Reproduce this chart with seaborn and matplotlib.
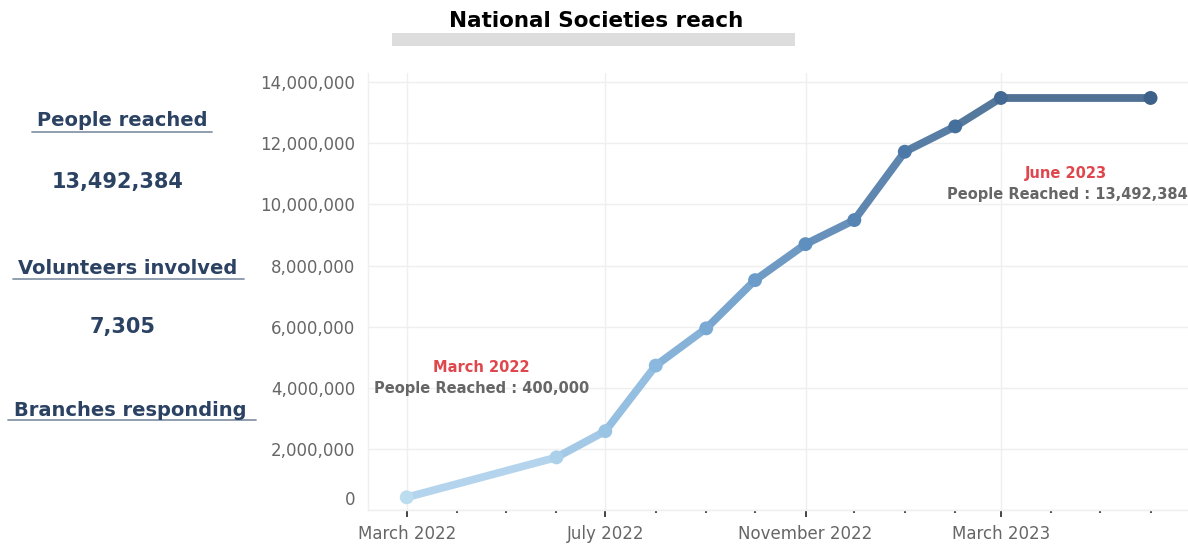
"""
National Societies reach - cumulative people reached line chart
"""

import pandas as pd
import numpy as np
import matplotlib.pyplot as plt
import matplotlib.dates as mdates
import matplotlib.patches as mpatches
from matplotlib.colors import LinearSegmentedColormap
from matplotlib.ticker import FuncFormatter, MultipleLocator
from matplotlib.transforms import ScaledTranslation
import seaborn as sns

# ─────────────────────────────────────────────
# DATA
# ─────────────────────────────────────────────
months = ['2022-03-01', '2022-06-01', '2022-07-01', '2022-08-01', '2022-09-01',
          '2022-10-01', '2022-11-01', '2022-12-01', '2023-01-01', '2023-02-01',
          '2023-03-01', '2023-06-01']
people_reached = [400000, 1710000, 2570000, 4720000, 5940000, 7520000,
                  8700000, 9490000, 11730000, 12560000, 13492384, 13492384]

kpi_labels = ['People reached', 'Volunteers involved', 'Branches responding']
kpi_values = ['13,492,384', '7,305', '']

df = pd.DataFrame({'Month': pd.to_datetime(months), 'Reached': people_reached})
df['step'] = range(len(df))

# ─────────────────────────────────────────────
# STYLE
# ─────────────────────────────────────────────
sns.set_style("white")
plt.rcParams['font.family'] = ['DejaVu Sans']

navy = '#2b4263'
grey_txt = '#666666'
red_txt = '#e0474c'
cmap = LinearSegmentedColormap.from_list(
    'reach', ['#bcdcf0', '#8dbbe0', '#6495c4', '#4a76a4', '#3d6189'])
n = len(df)
cols = [cmap(i / (n - 1)) for i in range(n)]

fig = plt.figure(figsize=(11.88, 5.45), dpi=100)
ax = fig.add_axes([0.3095, 0.0651, 0.6905, 0.8009])

# ── line (gradient segments) + markers ─────
for i in range(n - 1):
    seg = df.iloc[i:i + 2]
    ax.plot(seg['Month'], seg['Reached'], color=cols[i + 1], lw=5.6,
            alpha=0.9, solid_capstyle='round', zorder=3)
sns.scatterplot(data=df, x='Month', y='Reached', hue='step', palette=cols,
                s=100, edgecolor='none', legend=False, ax=ax, zorder=4)

# ── axes ───────────────────────────────────
ax.set_xlim(pd.Timestamp('2022-02-05'), pd.Timestamp('2023-06-24'))
ax.set_ylim(0, 14.31e6)
ax.yaxis.set_major_locator(MultipleLocator(2e6))
ax.yaxis.set_major_formatter(FuncFormatter(lambda v, _: f'{v:,.0f}'))
ax.xaxis.set_major_locator(mdates.MonthLocator(bymonth=[3, 7, 11]))
ax.xaxis.set_minor_locator(mdates.MonthLocator())
ax.xaxis.set_major_formatter(mdates.DateFormatter('%B %Y'))
ax.set_xlabel('')
ax.set_ylabel('')

ax.grid(True, which='major', color='#efefef', lw=1)
for s in ['top', 'right']:
    ax.spines[s].set_visible(False)
for s in ['left', 'bottom']:
    ax.spines[s].set_color('#efefef')
    ax.spines[s].set_linewidth(1)

ax.tick_params(axis='y', length=0, pad=9, labelsize=12, labelcolor=grey_txt)
ax.tick_params(axis='x', which='major', bottom=True, length=5, width=1.4,
               color='#444444', pad=6, labelsize=12, labelcolor=grey_txt,
               direction='out')
ax.tick_params(axis='x', which='minor', bottom=True, length=2.5, width=1.5,
               color='#555555', direction='out')

# zero label sits a bit higher in the reference
fig.canvas.draw()
for lab in ax.get_yticklabels():
    if lab.get_text() == '0':
        lab.set_transform(lab.get_transform() +
                          ScaledTranslation(0, 0.12, fig.dpi_scale_trans))

# ── annotations ────────────────────────────
ax.text(pd.Timestamp('2022-04-16'), 4.64e6, 'March 2022', color=red_txt,
        fontsize=10.5, fontweight='bold', ha='center', va='center')
ax.text(pd.Timestamp('2022-04-16'), 3.98e6, 'People Reached : 400,000',
        color=grey_txt, fontsize=10.5, fontweight='bold', ha='center', va='center')
ax.text(pd.Timestamp('2023-04-10'), 11.03e6, 'June 2023', color=red_txt,
        fontsize=10.5, fontweight='bold', ha='center', va='center')
ax.text(pd.Timestamp('2023-04-11'), 10.34e6, 'People Reached : 13,492,384',
        color=grey_txt, fontsize=10.5, fontweight='bold', ha='center', va='center')

# ── title with grey bar ────────────────────
fig.text(596 / 1188, 1 - 21 / 545, 'National Societies reach', fontsize=15.5,
         fontweight='bold', color='black', ha='center', va='center')
fig.patches.append(mpatches.Rectangle((392 / 1188, 1 - 46 / 545), 403 / 1188,
                                      13 / 545, transform=fig.transFigure,
                                      facecolor='#dddddd', edgecolor='none'))

# ── KPI side panel ─────────────────────────
label_pos = [(122, 121, 32, 212, 132), (128, 268, 13, 244, 279), (130, 410, 8, 256, 420)]
value_pos = [(118, 182), (123, 327), (0, 0)]
for lab, val, (lx, ly, ux0, ux1, uy), (vx, vy) in zip(kpi_labels, kpi_values,
                                                       label_pos, value_pos):
    fig.text(lx / 1188, 1 - ly / 545, lab, fontsize=14, fontweight='bold',
             color=navy, ha='center', va='center')
    fig.add_artist(plt.Line2D([ux0 / 1188, ux1 / 1188], [1 - uy / 545, 1 - uy / 545],
                              color='#8796aa', lw=1.3, transform=fig.transFigure))
    if val:
        fig.text(vx / 1188, 1 - vy / 545, val, fontsize=15, fontweight='bold',
                 color=navy, ha='center', va='center')

plt.savefig('out.png', dpi=100)
plt.close()
